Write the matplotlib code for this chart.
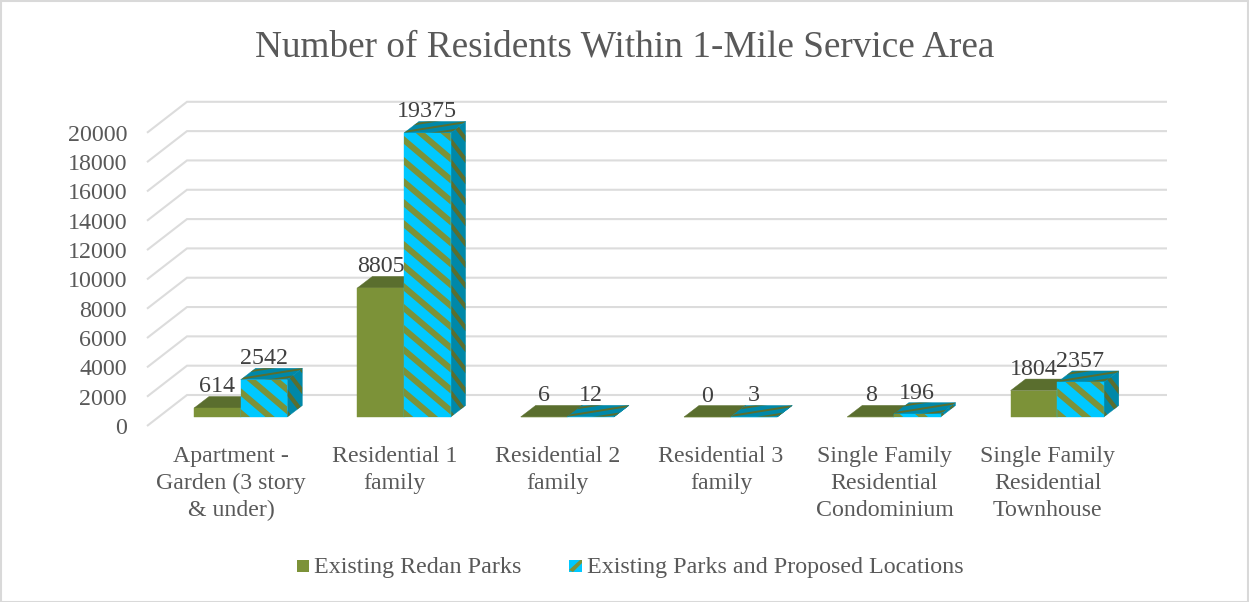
import numpy as np
import matplotlib
matplotlib.use('Agg')
import matplotlib.pyplot as plt
from matplotlib.patches import Polygon, Rectangle

categories = ['Apartment -\nGarden (3 story\n& under)', 'Residential 1\nfamily',
              'Residential 2\nfamily', 'Residential 3\nfamily',
              'Single Family\nResidential\nCondominium', 'Single Family\nResidential\nTownhouse']
existing = [614, 8805, 6, 0, 8, 1804]
proposed = [2542, 19375, 12, 3, 196, 2357]
value_ticks = list(range(0, 20001, 2000))
series_names = ['Existing Redan Parks', 'Existing Parks and Proposed Locations']
title = 'Number of Residents Within 1-Mile Service Area'

W, H = 1249, 602
STEP = 163.3         # px between categories
X0 = 240.7           # px of the first category centre
Y0 = 417             # px of the value 0 on the bars' front
PER_1000 = 14.66     # px per 1000 residents

GREEN, GREEN_DARK = '#7c9238', '#5a6e2e'
CYAN, CYAN_DARK = '#00c8ff', '#0088a8'
GRID = '#dcdcdc'

plt.rcParams['font.family'] = ['Liberation Serif', 'DejaVu Serif']

fig = plt.figure(figsize=(W / 100, H / 100), dpi=100)
ax = fig.add_axes([0, 0, 1, 1])
ax.set_xlim(-X0 / STEP, (W - X0) / STEP)
ax.set_ylim((Y0 - H) / PER_1000 * 1000, Y0 / PER_1000 * 1000)
ax.axis('off')


def dx(px):
    return px / STEP


def dy(px):
    return px / PER_1000 * 1000


BAR_W = dx(46.6)
DEPTH_X, DEPTH_Y = dx(15), dy(11.5)
WALL_X, WALL_Y = dx(40), dy(31)
FLOOR_Y = dy(-9)     # front edge of the floor sits below the bars
LEFT = dx(147 - X0)
RIGHT = dx(1167 - X0)

# gridlines on the back wall and their return along the side wall
for v in value_ticks:
    ax.plot([LEFT, LEFT + WALL_X, RIGHT], [v + FLOOR_Y, v + FLOOR_Y + WALL_Y, v + FLOOR_Y + WALL_Y],
            color=GRID, lw=1.5, solid_joinstyle='miter', solid_capstyle='butt', zorder=1)
    ax.text(dx(127 - X0), v + FLOOR_Y - dy(2.5), str(v), ha='right', va='center', fontsize=17.3,
            color='#595959')


def face(points, color, stripe=None, slope=0, period=20, thick=0.33):
    """Fill a polygon, then lay diagonal bands over it, clipped to its outline."""
    poly = Polygon(points, closed=True, fc=color, ec=color, lw=0.3, zorder=3)
    ax.add_patch(poly)
    if stripe is None:
        return
    pts = np.array(points)
    px_x = pts[:, 0] * STEP
    px_y = pts[:, 1] * PER_1000 / 1000
    x1, x2 = px_x.min(), px_x.max()
    offsets = px_y - slope * px_x
    base = px_y.min() - slope * px_x[np.argmin(px_y)]
    n1 = int(np.floor((offsets.min() - base) / period)) - 1
    n2 = int(np.ceil((offsets.max() - base) / period)) + 1
    for k in range(n1, n2):
        c = base + k * period
        band = [(x1, slope * x1 + c), (x2, slope * x2 + c),
                (x2, slope * x2 + c + period * thick), (x1, slope * x1 + c + period * thick)]
        p = Polygon([(a / STEP, b / PER_1000 * 1000) for a, b in band], closed=True,
                    fc=stripe, ec='none', zorder=3)
        ax.add_patch(p)
        p.set_clip_path(poly)


def box(x, value, front, top, side, stripes=False):
    x2 = x + BAR_W
    front_pts = [(x, 0), (x2, 0), (x2, value), (x, value)]
    top_pts = [(x, value), (x2, value), (x2 + DEPTH_X, value + DEPTH_Y), (x + DEPTH_X, value + DEPTH_Y)]
    side_pts = [(x2, 0), (x2 + DEPTH_X, DEPTH_Y), (x2 + DEPTH_X, value + DEPTH_Y), (x2, value)]
    if stripes:
        face(side_pts, side, GREEN_DARK, slope=-1.3, period=21, thick=0.33)
        face(top_pts, top, GREEN_DARK, slope=0.16, period=6, thick=0.33)
        face(front_pts, front, GREEN, slope=-0.85, period=21, thick=0.38)
    else:
        face(side_pts, side)
        face(top_pts, top)
        face(front_pts, front)


for i in range(len(categories)):
    box(i - BAR_W, existing[i], GREEN, GREEN_DARK, GREEN_DARK)
    box(i, proposed[i], CYAN, CYAN_DARK, CYAN_DARK, stripes=True)
    ax.text(i - BAR_W / 2, existing[i] + dy(21), str(existing[i]), ha='center', va='center',
            fontsize=17.3, color='#404040', zorder=5)
    ax.text(i + BAR_W / 2, proposed[i] + dy(21), str(proposed[i]), ha='center', va='center',
            fontsize=17.3, color='#404040', zorder=5)
    ax.text(i - dx(9.5), dy(Y0 - 446), categories[i], ha='center', va='top', fontsize=17.2,
            color='#595959', linespacing=1.37)

fig.text(625 / W, 1 - 47 / H, title, ha='center', va='center', fontsize=26.8, color='#595959')

# legend, laid out by hand so the striped key can be drawn as well
key_y = 1 - 572 / H
key_h = 12 / H
fig.add_artist(Rectangle((297 / W, key_y), 12 / W, key_h, transform=fig.transFigure, fc=GREEN, ec='none'))
fig.text(314 / W, 1 - 567 / H, series_names[0], ha='left', va='center', fontsize=17.25, color='#595959')
fig.add_artist(Rectangle((569 / W, key_y), 13 / W, key_h, transform=fig.transFigure, fc=CYAN, ec='none'))
key_band = Polygon([(569 / W, key_y + 2 / H), (580 / W, key_y + key_h), (582 / W, key_y + key_h),
                    (582 / W, key_y + 9 / H), (573 / W, key_y)], closed=True,
                   transform=fig.transFigure, fc=GREEN, ec='none')
fig.add_artist(key_band)
fig.text(587 / W, 1 - 567 / H, series_names[1], ha='left', va='center', fontsize=17.25, color='#595959')

# chart frame
fig.add_artist(Rectangle((0.5 / W, 0.5 / H), (W - 1.5) / W, (H - 1.5) / H, transform=fig.transFigure,
                         fc='none', ec='#d9d9d9', lw=1.5))

fig.savefig('out.png', dpi=100)
